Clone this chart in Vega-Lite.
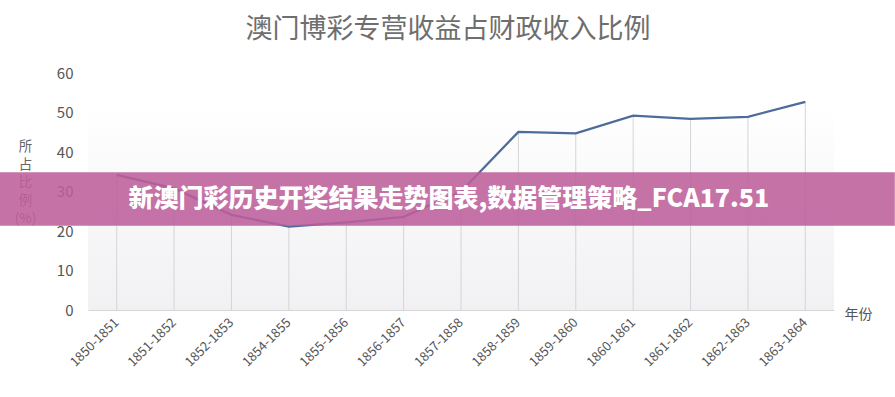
{
  "$schema": "https://vega.github.io/schema/vega-lite/v6.json",
  "autosize": {"type": "none"},
  "padding": {"left": 88, "top": 73, "right": 61, "bottom": 87},
  "width": 746,
  "height": 237,
  "background": "#ffffff",
  "config": {
    "font": "Noto Sans CJK SC",
    "view": {"stroke": null},
    "axisY": {
      "values": [0, 10, 20, 30, 40, 50, 60],
      "labelOverlap": false,
      "labelFontSize": 15,
      "labelColor": "#555555",
      "labelPadding": 15,
      "ticks": false,
      "grid": false,
      "domain": false,
      "titleFont": "Noto Sans CJK SC",
      "titleFontSize": 13.5,
      "titleFontWeight": "normal",
      "titleColor": "#666666",
      "titleAngle": 0,
      "titleAlign": "center",
      "titleBaseline": "top",
      "titleLineHeight": 18,
      "titleX": -63,
      "titleY": 66
    }
  },
  "title": {
    "text": "澳门博彩专营收益占财政收入比例",
    "font": "Noto Sans CJK SC",
    "fontSize": 27,
    "fontWeight": "normal",
    "color": "#6e6e6e",
    "anchor": "middle",
    "frame": "group",
    "dx": -13,
    "offset": 22
  },
  "datasets": {
    "main": [
      {"period": "1850-1851", "value": 34.2},
      {"period": "1851-1852", "value": 30.8},
      {"period": "1852-1853", "value": 24.1},
      {"period": "1854-1855", "value": 21.1},
      {"period": "1855-1856", "value": 22.2},
      {"period": "1856-1857", "value": 23.6},
      {"period": "1857-1858", "value": 30.0},
      {"period": "1858-1859", "value": 45.1},
      {"period": "1859-1860", "value": 44.7},
      {"period": "1860-1861", "value": 49.2},
      {"period": "1861-1862", "value": 48.4},
      {"period": "1862-1863", "value": 48.9},
      {"period": "1863-1864", "value": 52.7}
    ],
    "bg": [
      {"x0": 0, "x1": 13, "y0": 0, "y1": 52}
    ],
    "banner": [
      {"x0": -1.534, "x1": 14.06, "y0": 21.3, "y1": 34.9, "tx": 6.29, "ty": 28.0, "label": "新澳门彩历史开奖结果走势图表,数据管理策略_FCA17.51"}
    ]
  },
  "layer": [
    {
      "data": {"name": "bg"},
      "mark": {
        "type": "rect",
        "color": {
          "gradient": "linear",
          "x1": 0, "y1": 0, "x2": 0, "y2": 1,
          "stops": [
            {"offset": 0, "color": "#ffffff"},
            {"offset": 1, "color": "#f1f1f3"}
          ]
        }
      },
      "encoding": {
        "x": {"field": "x0", "type": "quantitative", "scale": {"domain": [0, 13], "nice": false, "zero": false}, "axis": null},
        "x2": {"field": "x1"},
        "y": {
          "field": "y0",
          "type": "quantitative",
          "scale": {"domain": [0, 60], "nice": false},
          "axis": {"title": ["所", "占", "比", "例", "(%)"]}
        },
        "y2": {"field": "y1"}
      }
    },
    {
      "layer": [
        {
          "mark": {"type": "rule", "color": "#d4d4da", "strokeWidth": 1},
          "encoding": {
            "x": {"field": "period", "type": "nominal", "sort": null},
            "y": {"datum": 0, "type": "quantitative"},
            "y2": {"field": "value"}
          }
        },
        {
          "mark": {"type": "line", "color": "#4d6c9c", "strokeWidth": 2.3},
          "encoding": {
            "x": {"field": "period", "type": "nominal", "sort": null},
            "y": {"field": "value", "type": "quantitative"}
          }
        }
      ],
      "data": {"name": "main"},
      "encoding": {
        "x": {
          "field": "period",
          "type": "nominal",
          "sort": null,
          "scale": {"type": "band", "paddingInner": 0, "paddingOuter": 0},
          "axis": {
            "title": "年份",
            "titleFont": "Noto Sans CJK SC",
            "titleFontSize": 14,
            "titleFontWeight": "normal",
            "titleColor": "#555555",
            "titleAngle": 0,
            "titleAlign": "center",
            "titleBaseline": "middle",
            "titleX": 770,
            "titleY": 4,
            "labelAngle": -45,
            "labelAlign": "right",
            "labelBaseline": "middle",
            "labelFontSize": 13,
            "labelColor": "#555555",
            "labelPadding": 10,
            "labelOverlap": false,
            "ticks": false,
            "grid": false,
            "domain": true,
            "domainColor": "#d6d6d6",
            "domainWidth": 1
          }
        },
        "y": {
          "field": "value",
          "type": "quantitative",
          "axis": {"title": ["所", "占", "比", "例", "(%)"]}
        }
      }
    },
    {
      "data": {"name": "banner"},
      "layer": [
        {
          "mark": {"type": "rect", "color": "#bd5e9b", "opacity": 0.88, "clip": false},
          "encoding": {
            "x": {"field": "x0", "type": "quantitative", "scale": {"domain": [0, 13], "nice": false, "zero": false}, "axis": null},
            "x2": {"field": "x1"},
            "y": {"field": "y0", "type": "quantitative", "axis": {"title": ["所", "占", "比", "例", "(%)"]}},
            "y2": {"field": "y1"}
          }
        },
        {
          "mark": {"type": "text", "color": "#ffffff", "fontSize": 25, "fontWeight": 900, "font": "Noto Sans CJK SC", "align": "center", "baseline": "middle"},
          "encoding": {
            "x": {"field": "tx", "type": "quantitative", "scale": {"domain": [0, 13], "nice": false, "zero": false}, "axis": null},
            "y": {"field": "ty", "type": "quantitative"},
            "text": {"field": "label"}
          }
        }
      ]
    }
  ],
  "resolve": {"scale": {"x": "independent"}, "axis": {"x": "independent"}}
}
